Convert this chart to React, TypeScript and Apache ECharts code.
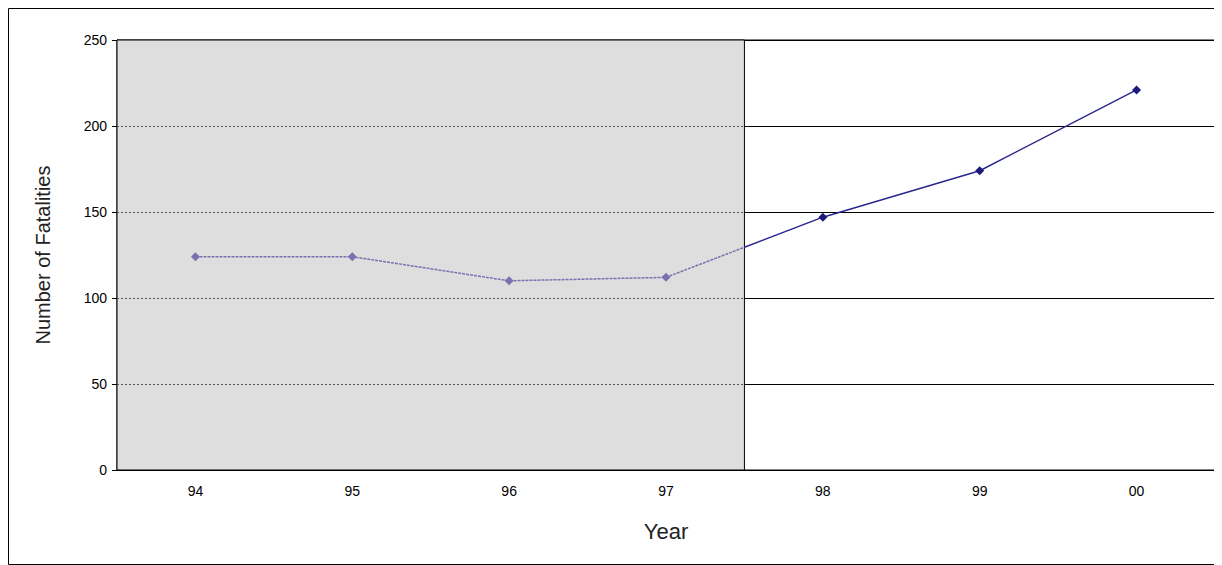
import React, { useEffect, useRef } from "react";
import * as echarts from "echarts";

const years = ["94", "95", "96", "97", "98", "99", "00"];
const fatalities = [124, 124, 110, 112, 147, 174, 221];
const yTicks = [0, 50, 100, 150, 200, 250];
const shadedCount = 4;

const App: React.FC = () => {
  const chartRef = useRef<HTMLDivElement>(null);

  useEffect(() => {
    if (!chartRef.current) return;
    const chart = echarts.init(chartRef.current, undefined, { renderer: "svg" });

    const pts = fatalities.map((v, i) => [i + 0.5, v]);
    // point where the 97-98 segment crosses the shaded boundary
    const a = pts[shadedCount - 1];
    const b = pts[shadedCount];
    const cross = [shadedCount, a[1] + ((b[1] - a[1]) * (shadedCount - a[0])) / (b[0] - a[0])];

    const leftData = [...pts.slice(0, shadedCount), { value: cross, symbolSize: 0 }];
    const rightData = [{ value: cross, symbolSize: 0 }, ...pts.slice(shadedCount)];

    const font = "Arial, 'Liberation Sans', sans-serif";

    chart.setOption({
      animation: false,
      textStyle: { fontFamily: font },
      graphic: [
        {
          type: "rect",
          shape: { x: 0.5, y: 0.5, width: 1213, height: 556 },
          style: { fill: "none", stroke: "#000", lineWidth: 1 },
        },
      ],
      grid: { left: 109, right: 7, top: 32, bottom: 95, show: true, borderColor: "#000", borderWidth: 1 },
      xAxis: [
        {
          type: "category",
          data: years,
          boundaryGap: true,
          name: "Year",
          nameLocation: "middle",
          nameGap: 50,
          nameTextStyle: { fontSize: 22, color: "#222" },
          axisLine: { lineStyle: { color: "#000" } },
          axisTick: { interval: 0, length: 7, lineStyle: { color: "#000" } },
          axisLabel: { fontSize: 14, color: "#000", margin: 14 },
        },
        { type: "value", min: 0, max: years.length, show: false },
      ],
      yAxis: {
        type: "value",
        min: yTicks[0],
        max: yTicks[yTicks.length - 1],
        interval: 50,
        name: "Number of Fatalities",
        nameLocation: "middle",
        nameGap: 64,
        nameTextStyle: { fontSize: 20, color: "#222" },
        axisLine: { show: true, lineStyle: { color: "#000" } },
        axisTick: { show: true, length: 5, lineStyle: { color: "#000" } },
        axisLabel: { fontSize: 14, color: "#000", margin: 10 },
        splitLine: { lineStyle: { color: "#000", width: 1 } },
      },
      series: [
        {
          type: "line",
          xAxisIndex: 1,
          data: [],
          markArea: {
            silent: true,
            itemStyle: { color: "#dedede", borderColor: "#000", borderWidth: 1 },
            data: [[{ coord: [0, yTicks[0]] }, { coord: [shadedCount, yTicks[yTicks.length - 1]] }]],
          },
          markLine: {
            silent: true,
            symbol: "none",
            label: { show: false },
            lineStyle: { color: "#555", type: [2, 2], width: 1 },
            data: yTicks.slice(1, -1).map((t) => [{ coord: [0, t] }, { coord: [shadedCount, t] }]),
          },
        },
        {
          type: "line",
          xAxisIndex: 1,
          data: leftData,
          symbol: "diamond",
          symbolSize: 9,
          color: "#7a72b0",
          lineStyle: { color: "#7a72b0", width: 1.5, type: [3, 1] },
          z: 5,
        },
        {
          type: "line",
          xAxisIndex: 1,
          data: rightData,
          symbol: "diamond",
          symbolSize: 9,
          color: "#1c1a78",
          lineStyle: { color: "#2a2890", width: 1.5 },
          z: 5,
        },
      ],
    });

    return () => chart.dispose();
  }, []);

  return <div ref={chartRef} style={{ width: 1214, height: 557 }} />;
};

export default App;
